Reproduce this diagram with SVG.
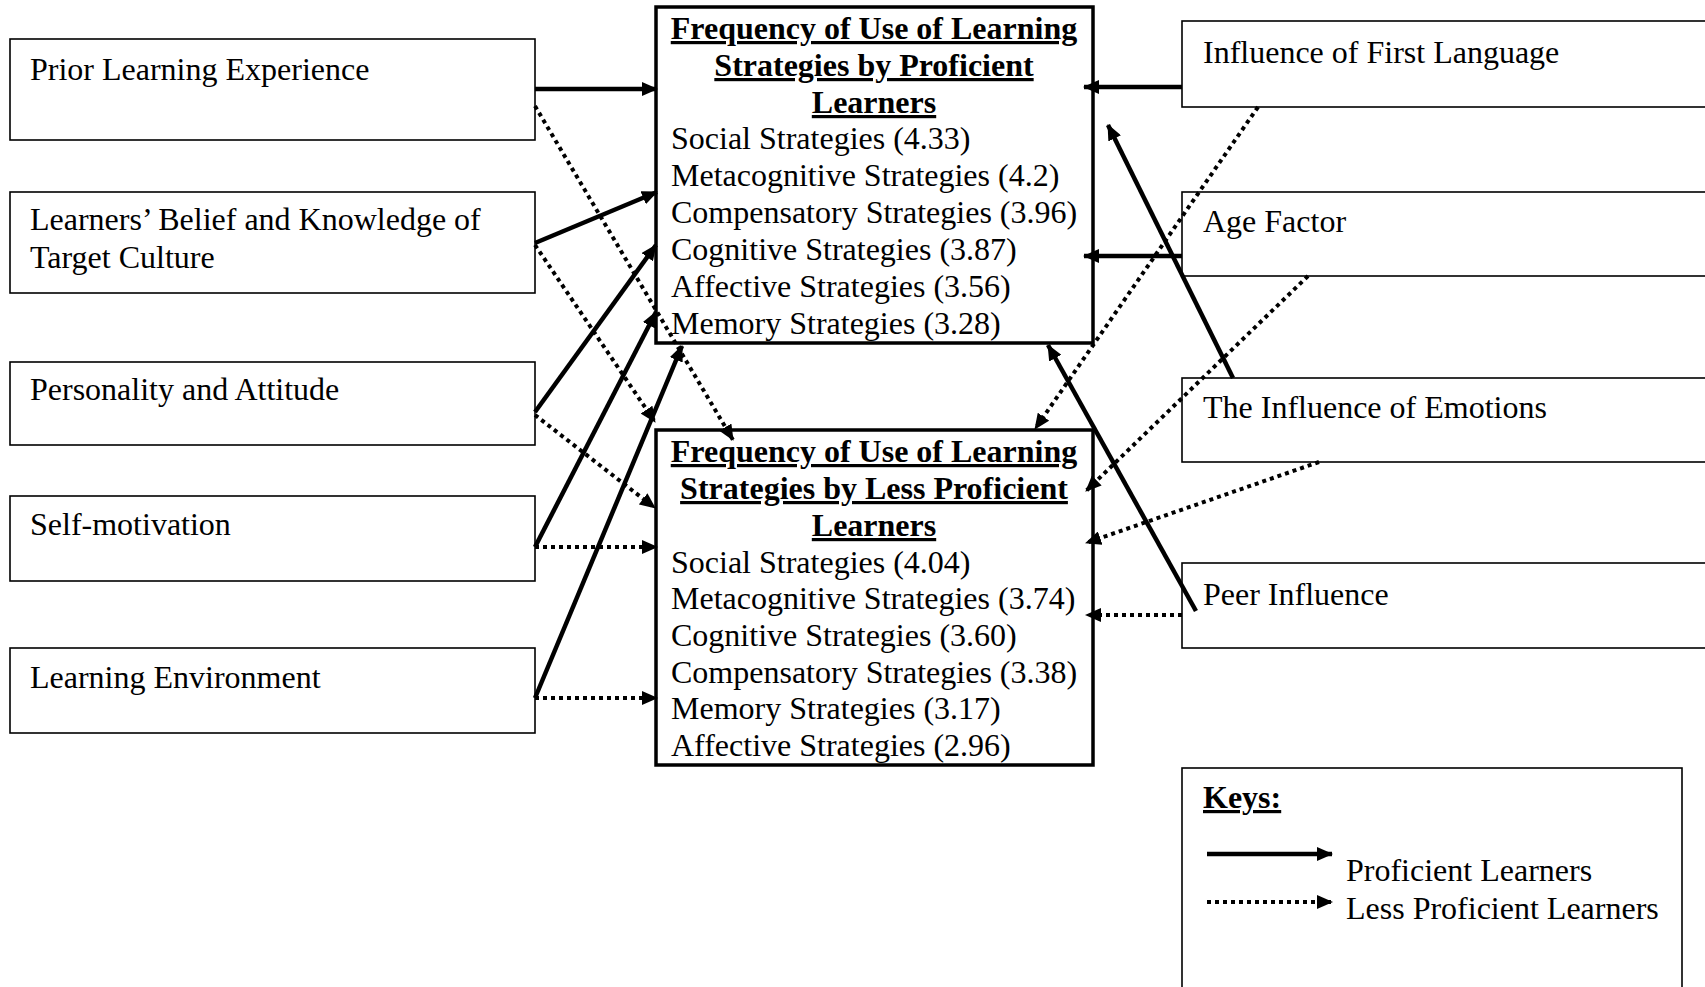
<svg xmlns="http://www.w3.org/2000/svg" width="1705" height="987" viewBox="0 0 1705 987">
<defs>
<style>
.box{fill:#fff;stroke:#000;stroke-width:1.6}
.cbox{fill:#fff;stroke:#000;stroke-width:3.5}
.t{font-family:"Liberation Serif","Times New Roman",serif;font-size:32px;fill:#000}
.tb{font-family:"Liberation Serif","Times New Roman",serif;font-size:32px;font-weight:bold;fill:#000;text-anchor:middle;text-decoration:underline;text-decoration-thickness:3px}
.kb{font-family:"Liberation Serif","Times New Roman",serif;font-size:32px;font-weight:bold;fill:#000;text-decoration:underline;text-decoration-thickness:3px}
.sol{stroke:#000;stroke-width:4.5;fill:none;marker-end:url(#ah)}
.dot{stroke:#000;stroke-width:4;fill:none;stroke-dasharray:4 4;marker-end:url(#ah)}
</style>
<marker id="ah" markerUnits="userSpaceOnUse" markerWidth="16" markerHeight="14" refX="15" refY="7" orient="auto">
<path d="M0,0 L16,7 L0,14 z" fill="#000"/>
</marker>
</defs>
<rect width="1705" height="987" fill="#fff"/>

<g id="prior-learning">
<rect class="box" x="10" y="39" width="525" height="101"/>
<text class="t" x="30" y="80">Prior Learning Experience</text>
</g>
<g id="learners-belief">
<rect class="box" x="10" y="192" width="525" height="101"/>
<text class="t" x="30" y="230">Learners’ Belief and Knowledge of</text>
<text class="t" x="30" y="268">Target Culture</text>
</g>
<g id="personality">
<rect class="box" x="10" y="362" width="525" height="83"/>
<text class="t" x="30" y="400">Personality and Attitude</text>
</g>
<g id="self-motivation">
<rect class="box" x="10" y="496" width="525" height="85"/>
<text class="t" x="30" y="535">Self-motivation</text>
</g>
<g id="learning-environment">
<rect class="box" x="10" y="648" width="525" height="85"/>
<text class="t" x="30" y="688">Learning Environment</text>
</g>

<g id="first-language">
<rect class="box" x="1182" y="21" width="540" height="86"/>
<text class="t" x="1203" y="63">Influence of First Language</text>
</g>
<g id="age-factor">
<rect class="box" x="1182" y="192" width="540" height="84"/>
<text class="t" x="1203" y="232">Age Factor</text>
</g>
<g id="emotions">
<rect class="box" x="1182" y="378" width="540" height="84"/>
<text class="t" x="1203" y="418">The Influence of Emotions</text>
</g>
<g id="peer-influence">
<rect class="box" x="1182" y="563" width="540" height="85"/>
<text class="t" x="1203" y="605">Peer Influence</text>
</g>

<g id="proficient">
<rect class="cbox" x="656" y="7" width="437" height="336"/>
<text class="tb" x="874" y="39">Frequency of Use of Learning</text>
<text class="tb" x="874" y="76">Strategies by Proficient</text>
<text class="tb" x="874" y="113">Learners</text>
<text class="t" x="671" y="149">Social Strategies (4.33)</text>
<text class="t" x="671" y="186">Metacognitive Strategies (4.2)</text>
<text class="t" x="671" y="223">Compensatory Strategies (3.96)</text>
<text class="t" x="671" y="260">Cognitive Strategies (3.87)</text>
<text class="t" x="671" y="297">Affective Strategies (3.56)</text>
<text class="t" x="671" y="334">Memory Strategies (3.28)</text>
</g>
<g id="less-proficient">
<rect class="cbox" x="656" y="430" width="437" height="335"/>
<text class="tb" x="874" y="462">Frequency of Use of Learning</text>
<text class="tb" x="874" y="499">Strategies by Less Proficient</text>
<text class="tb" x="874" y="536">Learners</text>
<text class="t" x="671" y="573">Social Strategies (4.04)</text>
<text class="t" x="671" y="609">Metacognitive Strategies (3.74)</text>
<text class="t" x="671" y="646">Cognitive Strategies (3.60)</text>
<text class="t" x="671" y="683">Compensatory Strategies (3.38)</text>
<text class="t" x="671" y="719">Memory Strategies (3.17)</text>
<text class="t" x="671" y="756">Affective Strategies (2.96)</text>
</g>

<g id="keys">
<rect class="box" x="1182" y="768" width="500" height="240"/>
<text class="kb" x="1203" y="808">Keys:</text>
<line class="sol" x1="1207" y1="854" x2="1332" y2="854"/>
<line class="dot" x1="1207" y1="902" x2="1332" y2="902"/>
<text class="t" x="1346" y="881">Proficient Learners</text>
<text class="t" x="1346" y="919">Less Proficient Learners</text>
</g>

<g id="connectors">
<line class="sol" x1="535" y1="89" x2="657" y2="89"/>
<line class="sol" x1="535" y1="243" x2="657" y2="192"/>
<line class="sol" x1="535" y1="412" x2="656" y2="245"/>
<line class="sol" x1="535" y1="547" x2="656" y2="312"/>
<line class="sol" x1="535" y1="698" x2="682" y2="346"/>
<line class="sol" x1="1182" y1="87" x2="1084" y2="87"/>
<line class="sol" x1="1182" y1="256" x2="1084" y2="256"/>
<line class="sol" x1="1233" y1="378" x2="1108" y2="125"/>
<line class="sol" x1="1196" y1="611" x2="1048" y2="345"/>

<line class="dot" x1="535" y1="106" x2="733" y2="440"/>
<line class="dot" x1="535" y1="245" x2="655" y2="422"/>
<line class="dot" x1="535" y1="415" x2="655" y2="508"/>
<line class="dot" x1="535" y1="547" x2="657" y2="547"/>
<line class="dot" x1="535" y1="698" x2="657" y2="698"/>
<line class="dot" x1="1258" y1="107" x2="1035" y2="429"/>
<line class="dot" x1="1308" y1="276" x2="1086" y2="491"/>
<line class="dot" x1="1319" y1="462" x2="1086" y2="543"/>
<line class="dot" x1="1182" y1="615" x2="1086" y2="615"/>
</g>
</svg>
